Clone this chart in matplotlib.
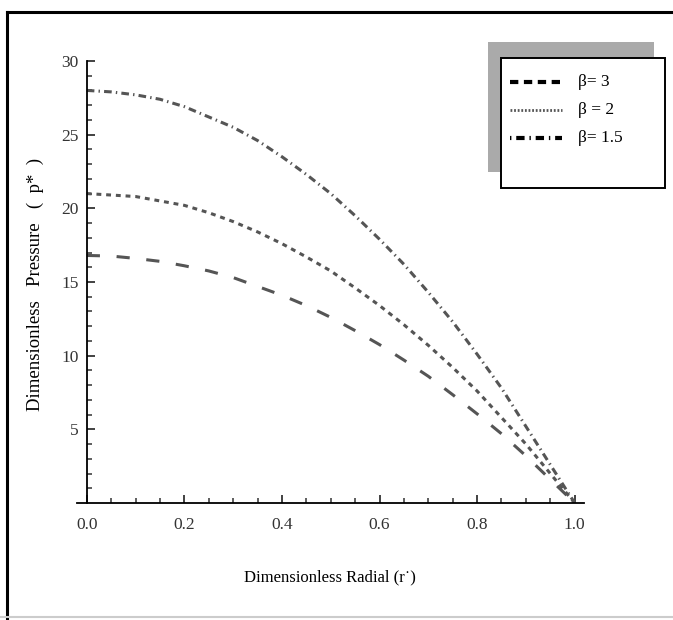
import matplotlib
matplotlib.use("Agg")
import matplotlib.pyplot as plt
from matplotlib.lines import Line2D
from matplotlib.patches import Rectangle

plt.rcParams['font.family'] = ['Liberation Serif', 'DejaVu Serif']
plt.rcParams['mathtext.fontset'] = 'stix'
plt.rcParams['lines.scale_dashes'] = False

# rayon adimensionnel
r = [0.0, 0.05, 0.1, 0.15, 0.2, 0.25, 0.3, 0.35, 0.4, 0.45, 0.5,
     0.55, 0.6, 0.65, 0.7, 0.75, 0.8, 0.85, 0.9, 0.95, 1.0]

# pression adimensionnelle pour chaque beta
p_beta3 = [16.8, 16.76, 16.6, 16.4, 16.1, 15.75, 15.3, 14.7, 14.1, 13.4, 12.6,
           11.7, 10.75, 9.7, 8.6, 7.35, 6.05, 4.7, 3.2, 1.6, 0.0]
p_beta2 = [21.0, 20.9, 20.8, 20.5, 20.2, 19.7, 19.1, 18.4, 17.6, 16.7, 15.75,
           14.6, 13.4, 12.1, 10.7, 9.2, 7.6, 5.8, 4.0, 2.0, 0.0]
p_beta15 = [28.0, 27.9, 27.7, 27.4, 26.9, 26.2, 25.5, 24.6, 23.5, 22.3, 21.0,
            19.5, 17.9, 16.2, 14.3, 12.3, 10.1, 7.8, 5.2, 2.6, 0.0]

labels = ['β= 3', 'β = 2', 'β= 1.5']
x_ticks = [0.0, 0.2, 0.4, 0.6, 0.8, 1.0]
y_ticks = [5, 10, 15, 20, 25, 30]

fig = plt.figure(figsize=(6.73, 6.2), dpi=100)
ax = fig.add_axes([0.1144, 0.1887, 0.754, 0.713])

ax.plot(r, p_beta3, color='#555555', lw=2.2, linestyle=(0, (9.5, 12)))
ax.plot(r, p_beta2, color='#555555', lw=2.2, linestyle=(0, (3.5, 3.5)))
ax.plot(r, p_beta15, color='#555555', lw=2.2, linestyle=(0, (5.5, 3, 1, 3)))

ax.set_xlim(-0.02, 1.02)
ax.set_ylim(0, 30)
ax.spines['left'].set_position(('data', 0))
ax.spines['bottom'].set_position(('data', 0))
ax.spines['top'].set_visible(False)
ax.spines['right'].set_visible(False)
ax.spines['left'].set_bounds(0, 30)
for s in ('left', 'bottom'):
    ax.spines[s].set_linewidth(1.3)

ax.set_xticks(x_ticks)
ax.set_xticklabels([f'{t:.1f}' for t in x_ticks])
ax.set_xticks([i * 0.05 for i in range(21)], minor=True)
ax.set_yticks(y_ticks)
ax.set_yticklabels([str(t) for t in y_ticks])
ax.set_yticks(range(1, 31), minor=True)
ax.tick_params(which='major', direction='in', length=6, width=1.3,
               labelsize=12.5, colors='#333333')
ax.tick_params(which='minor', direction='in', length=3.5, width=1.1,
               colors='#333333')
ax.tick_params(axis='x', pad=10)
ax.tick_params(axis='y', pad=6)

fig.text(0.49, 0.069, 'Dimensionless Radial (r\u02d9)', ha='center',
         va='center', fontsize=12)
fig.text(0.052, 0.542, 'Dimensionless   Pressure   (  p*  )', ha='center',
         va='center', rotation=90, fontsize=13.5)

# cadre extérieur
fig.add_artist(Line2D([7 / 673, 7 / 673], [0, 1 - 12 / 620], color='black',
                      lw=2.2, transform=fig.transFigure))
fig.add_artist(Line2D([7 / 673, 1], [1 - 12 / 620, 1 - 12 / 620],
                      color='black', lw=2.2, transform=fig.transFigure))
fig.add_artist(Line2D([0, 1], [3 / 620, 3 / 620], color='#cccccc', lw=1.5,
                      transform=fig.transFigure))

# légende avec ombre
def fx(px):
    return px / 673

def fy(py):
    return 1 - py / 620

fig.add_artist(Rectangle((fx(488), fy(172)), fx(654) - fx(488), fy(42) - fy(172),
                         facecolor='#aaaaaa', edgecolor='none',
                         transform=fig.transFigure))
fig.add_artist(Rectangle((fx(501), fy(188)), fx(665) - fx(501), fy(58) - fy(188),
                         facecolor='white', edgecolor='black', lw=1.4,
                         transform=fig.transFigure))

styles = [dict(color='black', lw=3, linestyle=(0, (6, 4))),
          dict(color='#555555', lw=2, linestyle=(0, (1.3, 1.3))),
          dict(color='black', lw=3, linestyle=(0, (1, 3.5, 6, 3.5)))]
rows = [82, 110, 138]
for lab, st, yy in zip(labels, styles, rows):
    fig.add_artist(Line2D([fx(510), fx(562)], [fy(yy), fy(yy)],
                          transform=fig.transFigure, **st))
    fig.text(fx(578), fy(yy), lab, ha='left', va='center', fontsize=12.5)

fig.savefig('out.png', dpi=100)
